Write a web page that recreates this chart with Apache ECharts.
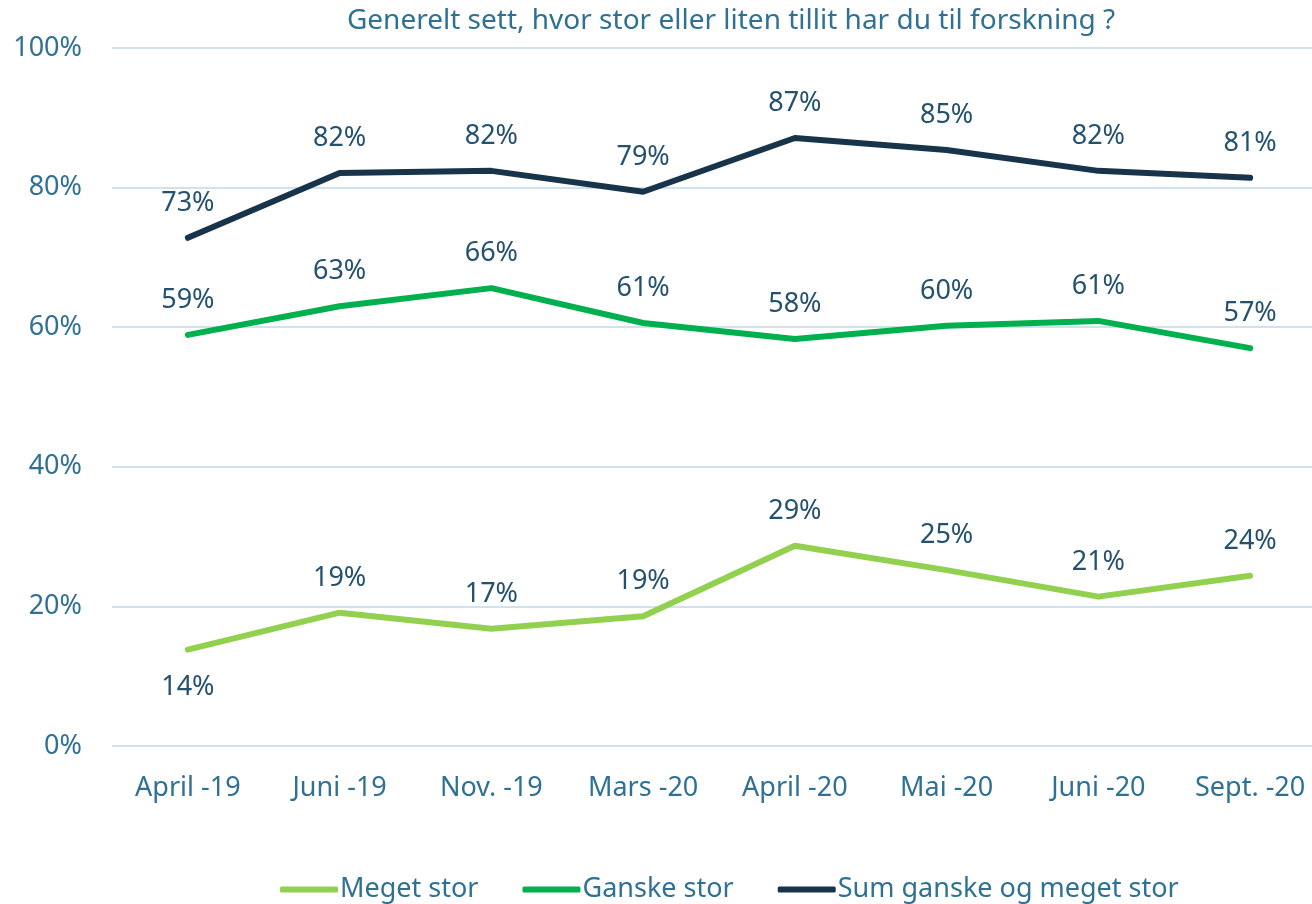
<!DOCTYPE html>
<html>
<head>
<meta charset="utf-8">
<script src="https://cdn.jsdelivr.net/npm/echarts@6/dist/echarts.min.js"></script>
<style>
  html, body { margin: 0; padding: 0; background: #fff; }
  #chart { width: 1312px; height: 904px; }
</style>
</head>
<body>
<div id="chart"></div>
<script>
const categories = ['April -19', 'Juni -19', 'Nov. -19', 'Mars -20', 'April -20', 'Mai -20', 'Juni -20', 'Sept. -20'];
const megetStor = [13.8, 19.1, 16.8, 18.6, 28.7, 25.2, 21.4, 24.4];
const ganskeStor = [58.9, 63.0, 65.6, 60.6, 58.3, 60.2, 60.9, 57.0];
const sumStor = [72.8, 82.1, 82.4, 79.4, 87.1, 85.4, 82.4, 81.4];
const yTicks = [0, 20, 40, 60, 80, 100];

const font = "'Noto Sans', 'Open Sans', sans-serif";
const labelColor = '#24526e';
const axisColor = '#2f7193';

const chart = echarts.init(document.getElementById('chart'));

const makeSeries = (name, values, color, belowIdx) => ({
    name,
    type: 'line',
    data: values.map((v, i) => (i === belowIdx
        ? { value: v, label: { position: 'bottom', distance: 24 } }
        : v)),
    symbol: 'circle',
    symbolSize: 0,
    showSymbol: true,
    lineStyle: { color, width: 6, cap: 'round', join: 'round' },
    itemStyle: { color },
    label: {
        show: true,
        position: 'top',
        distance: 21,
        fontFamily: font,
        fontSize: 27,
        color: labelColor,
        formatter: p => Math.round(p.value) + '%'
    },
    emphasis: { disabled: true },
    z: 3
});

chart.setOption({
    animation: false,
    title: {
        text: 'Generelt sett, hvor stor eller liten tillit har du til forskning ?',
        left: 726,
        top: 2,
        textAlign: 'center',
        textStyle: { fontFamily: font, fontSize: 28, fontWeight: 'normal', color: axisColor }
    },
    grid: { left: 112, top: 48, width: 1214, height: 698, outerBoundsMode: 'none' },
    legend: {
        top: 871,
        left: 275,
        itemWidth: 58,
        itemHeight: 6,
        itemGap: 44,
        icon: 'roundRect',
        textStyle: { fontFamily: font, fontSize: 27, color: axisColor, padding: [0, 0, 0, -3] },
        data: ['Meget stor', 'Ganske stor', 'Sum ganske og meget stor']
    },
    xAxis: {
        type: 'category',
        data: categories,
        boundaryGap: true,
        axisLine: { show: false },
        axisTick: { show: false },
        axisLabel: { fontFamily: font, fontSize: 27, color: axisColor, margin: 29 }
    },
    yAxis: {
        type: 'value',
        min: yTicks[0],
        max: yTicks[yTicks.length - 1],
        interval: yTicks[1] - yTicks[0],
        axisLine: { show: false },
        axisTick: { show: false },
        splitLine: { lineStyle: { color: '#d0e1ef', width: 2 } },
        axisLabel: { fontFamily: font, fontSize: 27, color: axisColor, margin: 30, formatter: '{value}%' }
    },
    series: [
        makeSeries('Meget stor', megetStor, '#92d050', 0),
        makeSeries('Ganske stor', ganskeStor, '#00b04f', -1),
        makeSeries('Sum ganske og meget stor', sumStor, '#17344a', -1)
    ]
});
</script>
</body>
</html>
